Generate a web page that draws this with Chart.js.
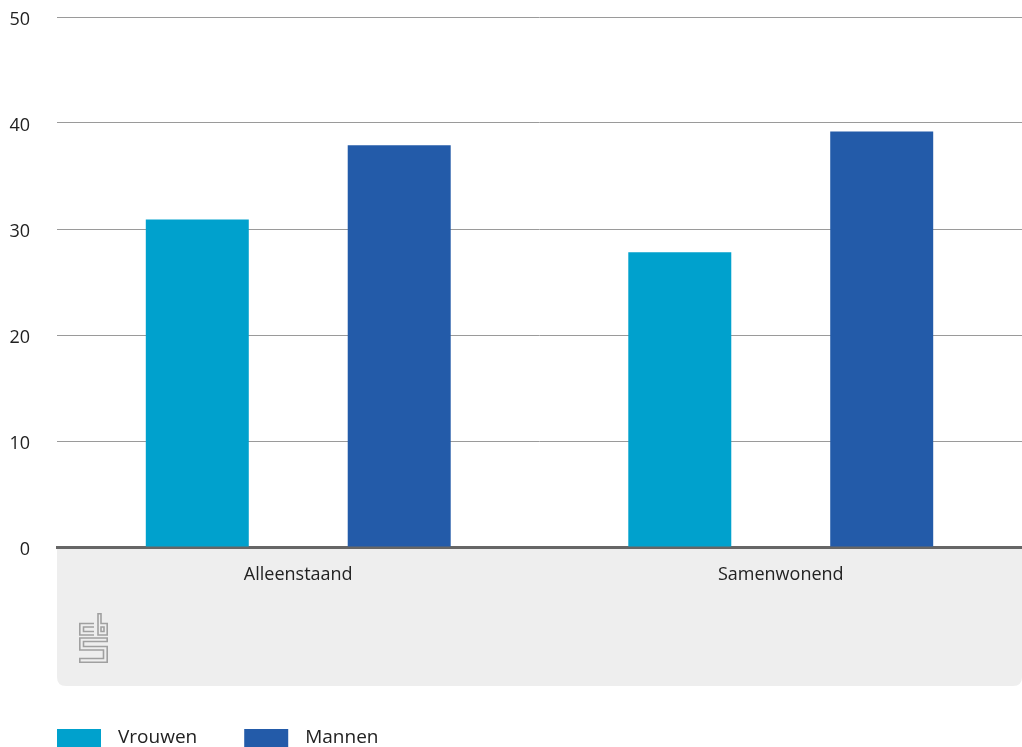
<!DOCTYPE html>
<html>
<head>
<meta charset="utf-8">
<script src="https://cdn.jsdelivr.net/npm/chart.js@4.4.0/dist/chart.umd.min.js"></script>
<style>
  html, body { margin: 0; padding: 0; background: #fff; }
  #wrap { width: 1022px; height: 747px; }
</style>
</head>
<body>
<div id="wrap"><canvas id="chart"></canvas></div>
<script>
const categories = ['Alleenstaand', 'Samenwonend'];
const vrouwen = [30.9, 27.8];
const mannen = [37.9, 39.2];
const yTicks = [0, 10, 20, 30, 40, 50];

const fontFamily = '"Open Sans", "Noto Sans", sans-serif';

// grey footer panel under the x axis, plus the cbs mark
const footerPanel = {
    id: 'footerPanel',
    beforeDraw(chart) {
        const { ctx, chartArea } = chart;
        const x0 = chartArea.left, x1 = chartArea.right;
        const y0 = chartArea.bottom, y1 = chartArea.bottom + 139;
        const r = 9;
        ctx.save();
        ctx.fillStyle = '#eeeeee';
        ctx.beginPath();
        ctx.moveTo(x0, y0);
        ctx.lineTo(x1, y0);
        ctx.lineTo(x1, y1 - r);
        ctx.quadraticCurveTo(x1, y1, x1 - r, y1);
        ctx.lineTo(x0 + r, y1);
        ctx.quadraticCurveTo(x0, y1, x0, y1 - r);
        ctx.closePath();
        ctx.fill();

        // cbs logo, rough outline
        const lx = 79, ly = 613;
        ctx.strokeStyle = '#a0a0a0';
        ctx.lineWidth = 1.6;
        ctx.beginPath();
        // c
        ctx.moveTo(lx + 15, ly + 10.5);
        ctx.lineTo(lx + 0.8, ly + 10.5);
        ctx.lineTo(lx + 0.8, ly + 22);
        ctx.lineTo(lx + 15, ly + 22);
        ctx.moveTo(lx + 15, ly + 14);
        ctx.lineTo(lx + 4.5, ly + 14);
        ctx.lineTo(lx + 4.5, ly + 18.5);
        ctx.lineTo(lx + 15, ly + 18.5);
        // b
        ctx.moveTo(lx + 19, ly + 0.8);
        ctx.lineTo(lx + 22, ly + 0.8);
        ctx.lineTo(lx + 22, ly + 10.5);
        ctx.lineTo(lx + 28.2, ly + 10.5);
        ctx.lineTo(lx + 28.2, ly + 22);
        ctx.lineTo(lx + 19, ly + 22);
        ctx.closePath();
        ctx.rect(lx + 22, ly + 14, 3, 4.5);
        // s
        ctx.moveTo(lx + 28.2, ly + 25);
        ctx.lineTo(lx + 0.8, ly + 25);
        ctx.lineTo(lx + 0.8, ly + 37);
        ctx.lineTo(lx + 24.5, ly + 37);
        ctx.lineTo(lx + 24.5, ly + 45.5);
        ctx.lineTo(lx + 0.8, ly + 45.5);
        ctx.lineTo(lx + 0.8, ly + 49.2);
        ctx.lineTo(lx + 28.2, ly + 49.2);
        ctx.lineTo(lx + 28.2, ly + 33.5);
        ctx.lineTo(lx + 4.5, ly + 33.5);
        ctx.lineTo(lx + 4.5, ly + 28.5);
        ctx.lineTo(lx + 28.2, ly + 28.5);
        ctx.closePath();
        ctx.stroke();
        ctx.restore();
    },
    // legend drawn by hand so the spacing matches the original
    afterDraw(chart) {
        const { ctx } = chart;
        ctx.save();
        ctx.font = '19px ' + fontFamily;
        ctx.textBaseline = 'middle';
        let x = chart.chartArea.left;
        const y = 729;
        chart.data.datasets.forEach(ds => {
            ctx.fillStyle = ds.backgroundColor;
            ctx.fillRect(x, y, 44, 18);
            ctx.fillStyle = '#222';
            ctx.fillText(ds.label, x + 61, y + 9);
            x += 61 + ctx.measureText(ds.label).width + 47;
        });
        ctx.restore();
    }
};

new Chart(document.getElementById('chart'), {
    type: 'bar',
    data: {
        labels: categories,
        datasets: [
            { label: 'Vrouwen', data: vrouwen, backgroundColor: '#00a1cd' },
            { label: 'Mannen', data: mannen, backgroundColor: '#235ba9' }
        ]
    },
    options: {
        responsive: true,
        maintainAspectRatio: false,
        animation: false,
        categoryPercentage: 0.837,
        barPercentage: 0.51,
        layout: { padding: { top: 17, right: 0, bottom: 59, left: 0 } },
        plugins: {
            tooltip: { enabled: false },
            legend: { display: false }
        },
        scales: {
            x: {
                grid: { display: false, drawTicks: false },
                border: { display: true, color: '#666', width: 3 },
                ticks: { color: '#222', padding: 17, font: { family: fontFamily, size: 18 } },
                afterFit(scale) { scale.height = 141; }
            },
            y: {
                min: 0,
                max: 50,
                afterBuildTicks(scale) { scale.ticks = yTicks.map(v => ({ value: v })); },
                grid: { color: '#9a9a9a', lineWidth: 1, drawTicks: false },
                border: { display: false },
                ticks: { color: '#222', padding: 27, labelOffset: 3, font: { family: fontFamily, size: 18 } },
                afterFit(scale) {
                    scale.width = 57;
                    scale.paddingTop = 0;
                    scale.paddingBottom = 0;
                }
            }
        }
    },
    plugins: [footerPanel]
});
</script>
</body>
</html>
